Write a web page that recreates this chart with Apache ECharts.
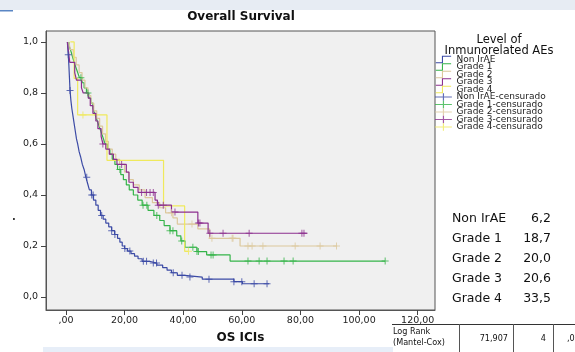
<!DOCTYPE html>
<html><head><meta charset="utf-8">
<script src="https://cdn.jsdelivr.net/npm/echarts@6/dist/echarts.min.js"></script>
<style>html,body{margin:0;padding:0;background:#fff}#c{width:575px;height:352px}</style>
</head><body><div id="c"></div>
<script>
// ---- data ----
const groupNames = ['Non IrAE', 'Grade 1', 'Grade 2', 'Grade 3', 'Grade 4'];
const groupColors = ['#3b4aa5', '#35b449', '#dcc89c', '#8c2f8e', '#efe95c'];

const nonIrAE_start = 0.5;
const nonIrAE_t = [0.6,0.8,1.0,1.2,1.4,1.7,2.0,2.4,2.8,3.2,3.6,4.0,4.5,5.0,5.6,6.2,6.8,7.4,8.0,8.7,9.4,10.2,11.0,11.8,12.7,13.6,14.6,15.6,16.6,17.6,18.4,19.2,20.0,21.0,22.2,23.4,24.6,26.0,28.5,31.0,33.0,34.5,36.0,38.0,40.5,46.5,57.3,60.2];
const nonIrAE_s = [0.98,0.95,0.91,0.86,0.81,0.77,0.74,0.71,0.68,0.65,0.62,0.60,0.57,0.55,0.52,0.50,0.47,0.445,0.42,0.40,0.38,0.36,0.34,0.32,0.305,0.29,0.275,0.26,0.245,0.23,0.215,0.20,0.19,0.18,0.17,0.16,0.15,0.14,0.133,0.125,0.115,0.105,0.095,0.085,0.078,0.07,0.06,0.052];
const nonIrAE_end = 69.3;
const nonIrAE_cens = [0.8,1.4,7.1,8.8,9.3,12.2,15.6,16.7,20.1,21.8,26.4,27.5,29.8,30.9,36.6,39.6,42.3,48.8,57.3,60.0,64.2,68.6];

const grade1_start = 1.0;
const grade1_t = [1.2,1.8,2.3,2.8,3.4,4.0,4.6,5.5,6.2,7.0,7.8,8.5,9.2,9.8,10.4,11.0,11.6,12.2,12.8,13.4,14.2,15.0,15.8,16.7,17.6,18.7,19.6,20.6,21.6,23.0,24.5,26.0,28.0,30.0,32.0,33.5,35.5,37.8,39.2,40.6,44.7,48.0,56.0];
const grade1_s = [0.98,0.96,0.94,0.92,0.90,0.88,0.86,0.84,0.82,0.80,0.78,0.76,0.74,0.72,0.70,0.68,0.66,0.64,0.62,0.60,0.58,0.56,0.54,0.52,0.50,0.48,0.46,0.44,0.42,0.40,0.38,0.36,0.34,0.32,0.30,0.28,0.26,0.24,0.22,0.195,0.178,0.165,0.141];
const grade1_end = 108.9;
const grade1_cens = [5.1,7.5,18.4,26.3,27.6,31.0,35.5,36.5,39.5,43.3,44.7,45.2,49.5,50.2,62.1,65.9,68.6,74.4,77.5,108.9];

const grade2_start = 1.0;
const grade2_t = [1.5,2.5,3.5,4.5,5.5,6.5,7.5,8.5,9.5,10.5,11.5,12.5,13.5,14.5,15.8,17.0,18.3,20.0,21.5,23.0,25.0,27.0,29.5,32.0,34.0,36.5,38.0,45.0,49.0,59.4];
const grade2_s = [0.97,0.94,0.91,0.88,0.85,0.82,0.79,0.76,0.73,0.70,0.67,0.64,0.61,0.58,0.56,0.54,0.52,0.49,0.46,0.44,0.42,0.39,0.37,0.35,0.33,0.31,0.286,0.267,0.23,0.20];
const grade2_end = 92.5;
const grade2_cens = [36.0,43.0,49.8,56.7,57.0,62.1,63.5,67.2,78.2,86.7,92.3];

const grade3_start = 0.5;
const grade3_t = [0.9,1.3,3.0,3.6,5.3,5.9,7.6,8.3,9.2,10.2,10.9,12.0,12.6,13.6,14.8,16.2,17.4,20.6,21.5,23.0,24.6,30.4,31.2,36.0,45.0,48.5];
const grade3_s = [0.96,0.92,0.88,0.85,0.82,0.80,0.78,0.75,0.72,0.69,0.66,0.63,0.60,0.58,0.56,0.54,0.52,0.49,0.45,0.43,0.41,0.38,0.36,0.333,0.29,0.25];
const grade3_end = 82.3;
const grade3_cens = [12.6,19.0,25.8,27.5,28.7,29.8,31.5,33.2,37.2,45.2,45.7,49.1,53.6,62.5,80.5,81.2];

const grade4_start = 1.5;
const grade4_t = [2.8,4.0,14.0,33.3,40.5];
const grade4_s = [0.857,0.714,0.536,0.357,0.179];
const grade4_end = 41.8;
const grade4_cens = [5.8,41.8];

const medianValues = ['6,2', '18,7', '20,0', '20,6', '33,5'];
const xTicks = [0, 20, 40, 60, 80, 100, 120];
const xTickLabels = [',00', '20,00', '40,00', '60,00', '80,00', '100,00', '120,00'];
const yTicks = [0, 0.2, 0.4, 0.6, 0.8, 1.0];
const yTickLabels = ['0,0', '0,2', '0,4', '0,6', '0,8', '1,0'];
const logRankRow = ['71,907', '4', ',0'];

// ---- build ----
const groups = [
  [nonIrAE_start, nonIrAE_t, nonIrAE_s, nonIrAE_end, nonIrAE_cens],
  [grade1_start, grade1_t, grade1_s, grade1_end, grade1_cens],
  [grade2_start, grade2_t, grade2_s, grade2_end, grade2_cens],
  [grade3_start, grade3_t, grade3_s, grade3_end, grade3_cens],
  [grade4_start, grade4_t, grade4_s, grade4_end, grade4_cens]
];
function survAt(ts, ss, t) {
  let v = 1.0;
  for (let i = 0; i < ts.length; i++) { if (ts[i] <= t) v = ss[i]; }
  return v;
}
const stepIcon = 'path://M0,8.5h8v-8.5h12v1.4h-10.6v8.5h-9.4z';
const plusIcon = 'path://M9.3,0h1.4v9h-1.4zM0,3.8h20v1.4h-20z';
const censSymbol = 'path://M3,0h1v7h-1zM0,3h7v1h-7z';

const lineSeries = [], censSeries = [], legendData = [];
groups.forEach((g, i) => {
  const [st, ts, ss, en] = g;
  const data = [[st, 1.0]];
  ts.forEach((t, k) => data.push([t, ss[k]]));
  data.push([en, ss[ss.length - 1]]);
  lineSeries.push({
    name: groupNames[i], type: 'line', step: 'end', data: data,
    showSymbol: false, symbol: 'none', silent: true,
    lineStyle: { color: groupColors[i], width: 1.2 },
    itemStyle: { color: groupColors[i] }, z: 2 + (i === 3 ? 1 : 0)
  });
  legendData.push({ name: groupNames[i], icon: stepIcon });
});
groups.forEach((g, i) => {
  const [st, ts, ss, en, cs] = g;
  censSeries.push({
    name: groupNames[i] + '-censurado', type: 'scatter',
    data: cs.map(t => [t, survAt(ts, ss, t)]),
    symbol: censSymbol, symbolSize: 7, silent: true,
    itemStyle: { color: groupColors[i] }, z: 4
  });
  legendData.push({ name: groupNames[i] + '-censurado', icon: plusIcon });
});

const FONT = 'DejaVu Sans';
const graphics = [
  { type: 'rect', shape: { x: 0, y: 0, width: 575, height: 10 }, style: { fill: '#e7ecf3' }, silent: true },
  { type: 'rect', shape: { x: 0, y: 10, width: 13, height: 1.5 }, style: { fill: '#5a86c4' }, silent: true },
  { type: 'rect', shape: { x: 43, y: 347, width: 350, height: 5 }, style: { fill: '#e7eef8' }, silent: true },
  { type: 'text', x: 241, y: 17, style: { text: 'Overall Survival', font: 'bold 12px "DejaVu Sans"', fill: '#111', textAlign: 'center', textVerticalAlign: 'middle' } },
  { type: 'text', x: 499, y: 40, style: { text: 'Level of', font: '11.5px "DejaVu Sans"', fill: '#111', textAlign: 'center', textVerticalAlign: 'middle' } },
  { type: 'text', x: 499, y: 51, style: { text: 'Inmunorelated AEs', font: '11.5px "DejaVu Sans"', fill: '#111', textAlign: 'center', textVerticalAlign: 'middle' } },
  { type: 'text', x: 14, y: 217, style: { text: '.', font: 'bold 10px "DejaVu Sans"', fill: '#333', textAlign: 'center', textVerticalAlign: 'middle' } }
];
groupNames.forEach((n, i) => {
  graphics.push({ type: 'text', x: 452, y: 219 + i * 20, style: { text: n, font: '12.5px "DejaVu Sans"', fill: '#111', textVerticalAlign: 'middle' } });
  graphics.push({ type: 'text', x: 551, y: 219 + i * 20, style: { text: medianValues[i], font: '12.5px "DejaVu Sans"', fill: '#111', textAlign: 'right', textVerticalAlign: 'middle' } });
});
// log rank table
graphics.push({ type: 'line', shape: { x1: 392, y1: 324.5, x2: 575, y2: 324.5 }, style: { stroke: '#333', lineWidth: 1 } });
[459, 513, 553].forEach(x => graphics.push({ type: 'line', shape: { x1: x + 0.5, y1: 324, x2: x + 0.5, y2: 352 }, style: { stroke: '#555', lineWidth: 1 } }));
const narrow = '9px "Liberation Sans Narrow", "DejaVu Sans Condensed", sans-serif';
graphics.push({ type: 'text', x: 393, y: 332, style: { text: 'Log Rank', font: narrow, fill: '#111', textVerticalAlign: 'middle' } });
graphics.push({ type: 'text', x: 393, y: 343, style: { text: '(Mantel-Cox)', font: narrow, fill: '#111', textVerticalAlign: 'middle' } });
graphics.push({ type: 'text', x: 508, y: 339, style: { text: logRankRow[0], font: narrow, fill: '#111', textAlign: 'right', textVerticalAlign: 'middle' } });
graphics.push({ type: 'text', x: 546, y: 339, style: { text: logRankRow[1], font: narrow, fill: '#111', textAlign: 'right', textVerticalAlign: 'middle' } });
graphics.push({ type: 'text', x: 567, y: 339, style: { text: logRankRow[2], font: narrow, fill: '#111', textVerticalAlign: 'middle' } });

const chart = echarts.init(document.getElementById('c'), null, { renderer: 'canvas' });
chart.setOption({
  animation: false,
  backgroundColor: '#ffffff',
  textStyle: { fontFamily: FONT },
  grid: { left: 46, right: 140, top: 31, bottom: 42, show: true, backgroundColor: '#f0f0f0', borderColor: '#555', borderWidth: 1 },
  xAxis: {
    type: 'value', min: -6.8, max: 125.9,
    axisLine: { show: true, onZero: false, lineStyle: { color: '#555' } },
    axisTick: { show: true, inside: false, customValues: xTicks, length: 5, lineStyle: { color: '#444', width: 1 } },
    axisLabel: { customValues: xTicks, formatter: v => xTickLabels[xTicks.indexOf(v)] ?? '', fontSize: 9.5, color: '#222', margin: 6, fontFamily: FONT },
    splitLine: { show: false },
    name: 'OS ICIs', nameLocation: 'middle', nameGap: 22,
    nameTextStyle: { fontSize: 12, fontWeight: 'bold', color: '#111', fontFamily: FONT }
  },
  yAxis: {
    type: 'value', min: -0.051, max: 1.043,
    axisLine: { show: true, onZero: false, lineStyle: { color: '#555' } },
    axisTick: { show: true, inside: false, customValues: yTicks, length: 5, lineStyle: { color: '#444', width: 1 } },
    axisLabel: { customValues: yTicks, formatter: v => { const k = yTicks.findIndex(t => Math.abs(t - v) < 1e-6); return k >= 0 ? yTickLabels[k] : ''; }, fontSize: 9.5, color: '#222', margin: 8, fontFamily: FONT },
    splitLine: { show: false }
  },
  legend: {
    orient: 'vertical', left: 435, top: 55, padding: 0, itemGap: -1.5,
    itemWidth: 20, itemHeight: 7.6, data: legendData, selectedMode: false,
    textStyle: { fontSize: 9, color: '#222', fontFamily: FONT, padding: [0, 0, 0, -2] },
    itemStyle: { borderWidth: 0 }
  },
  series: lineSeries.concat(censSeries),
  graphic: graphics
});
</script>
</body></html>
